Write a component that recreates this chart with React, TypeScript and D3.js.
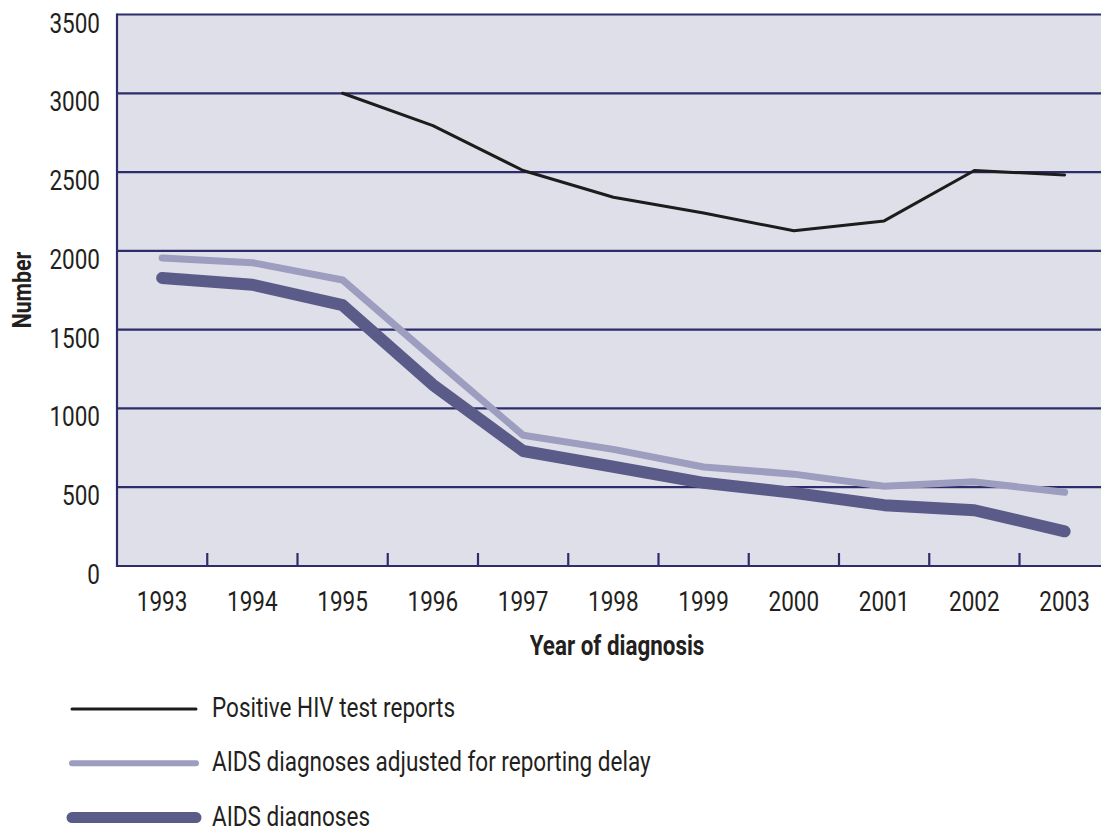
import React from 'react'
import * as d3 from 'd3'

const years = ['1993', '1994', '1995', '1996', '1997', '1998', '1999', '2000', '2001', '2002', '2003']
const hivReports = [null, null, 3000, 2795, 2510, 2340, 2240, 2127, 2190, 2510, 2482]
const aidsAdjusted = [1955, 1925, 1815, 1320, 830, 740, 628, 583, 506, 534, 468]
const aidsDiagnoses = [1828, 1785, 1655, 1150, 730, 630, 528, 464, 386, 354, 220]
const yTicks = [0, 500, 1000, 1500, 2000, 2500, 3000, 3500]

const series = [
  { name: 'Positive HIV test reports', values: hivReports, color: '#1c1c1c', width: 3, legendWidth: 3 },
  { name: 'AIDS diagnoses adjusted for reporting delay', values: aidsAdjusted, color: '#9c9dbf', width: 7, legendWidth: 6 },
  { name: 'AIDS diagnoses', values: aidsDiagnoses, color: '#5b5b8a', width: 12, legendWidth: 11 },
]

const W = 1101
const H = 826

// condensed text: scale horizontally around its anchor point (the original uses a condensed face)
const Txt = ({ x, y, size = 28.5, sx = 0.79, anchor = 'start', bold = false, rotate = 0, children }: any) => (
  <text transform={`translate(${x},${y}) rotate(${rotate}) scale(${sx},1)`} textAnchor={anchor}
    fontSize={size} fontWeight={bold ? 'bold' : 'normal'} fill="#231f20">{children}</text>
)

const App = () => {
  const left = 117
  const bandW = 90.25
  const x = d3.scaleBand().domain(years).range([left, left + bandW * years.length])
  const y = d3.scaleLinear().domain([0, 3500]).range([566, 14.5])

  const line = d3.line<number | null>()
    .defined(d => d != null)
    .x((d, i) => x(years[i])! + x.bandwidth() / 2)
    .y(d => y(d as number))

  return (
    <svg width={W} height={H} style={{ position: 'absolute', left: 0, top: 0 }} fontFamily="Roboto, sans-serif">
      <rect x={left} y={y(3500)} width={W - left} height={y(0) - y(3500)} fill="#dfdfe9" />
      {yTicks.map(t => (
        <g key={t}>
          {t > 0 && <line x1={left} x2={W} y1={y(t)} y2={y(t)} stroke="#2d2d6c" strokeWidth={2.2} />}
          {/* labels hang just below their gridline */}
          <Txt x={100} y={y(t) + 18} anchor="end">{t}</Txt>
        </g>
      ))}
      {/* axes */}
      <line x1={left} x2={left} y1={y(3500) - 1} y2={y(0) + 1} stroke="#2d2d6c" strokeWidth={2.2} />
      <line x1={left} x2={W} y1={y(0)} y2={y(0)} stroke="#2d2d6c" strokeWidth={2.2} />
      {years.map((yr, i) => (
        <g key={yr}>
          {i > 0 && <line x1={x(yr)} x2={x(yr)} y1={y(0)} y2={y(0) - 13} stroke="#2d2d6c" strokeWidth={2.2} />}
          <Txt x={x(yr)! + x.bandwidth() / 2} y={611} anchor="middle">{yr}</Txt>
        </g>
      ))}
      {series.map(s => (
        <path key={s.name} d={line(s.values) || ''} fill="none" stroke={s.color} strokeWidth={s.width}
          strokeLinecap="round" strokeLinejoin="round" />
      ))}
      <Txt x={617} y={655} size={28} sx={0.8} anchor="middle" bold>Year of diagnosis</Txt>
      <Txt x={31} y={290} size={26} sx={0.82} anchor="middle" bold rotate={-90}>Number</Txt>
      {series.map((s, i) => {
        const ly = 709 + i * 54.3
        return (
          <g key={s.name}>
            <line x1={72} x2={196} y1={ly} y2={ly} stroke={s.color} strokeWidth={s.legendWidth} strokeLinecap="round" />
            <Txt x={212} y={ly + 8}>{s.name}</Txt>
          </g>
        )
      })}
    </svg>
  )
}

export default App
